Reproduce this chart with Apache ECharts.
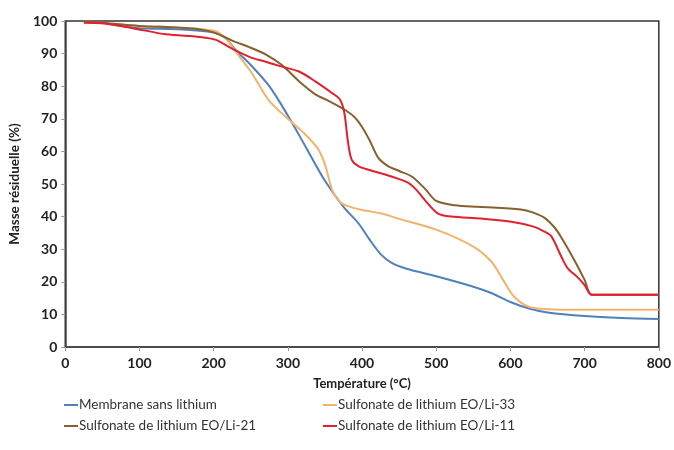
<!DOCTYPE html>
<html lang="fr">
<head>
    <meta charset="UTF-8">
    <title>Masse résiduelle</title>
    <script src="https://cdn.jsdelivr.net/npm/echarts@6/dist/echarts.min.js"></script>
</head>
<body style="margin:0">
<div id="main" style="width: 674px;height:450px;"></div>
<script type="text/javascript">
var tMembrane = [25, 50, 75, 100, 150, 200, 215, 230, 250, 275, 300, 325, 350, 375, 395, 410, 425, 440, 460, 500, 550, 575, 600, 625, 650, 700, 750, 800];
var mMembrane = [100, 99.5, 98.5, 97.8, 97.5, 96.5, 95, 91, 86.5, 80, 71, 61, 51, 43, 38, 33, 28.5, 25.8, 24, 21.7, 18.5, 16.5, 13.8, 11.8, 10.6, 9.5, 8.9, 8.6];

var tLi33 = [25, 50, 100, 150, 200, 215, 230, 250, 275, 300, 320, 340, 350, 360, 370, 380, 400, 425, 450, 500, 550, 575, 590, 605, 625, 650, 700, 800];
var mLi33 = [100, 99.3, 98.5, 98, 97, 95, 90.5, 84.5, 75.5, 70, 66, 61, 56, 48, 44.5, 43.3, 42, 41, 39.3, 36, 30.8, 26, 20.6, 15.4, 12.3, 11.6, 11.4, 11.4];

var tLi21 = [25, 50, 100, 150, 180, 200, 225, 250, 270, 292, 315, 337, 355, 375, 390, 400, 410, 422, 435, 450, 467, 485, 500, 525, 556, 614, 630, 646, 660, 668, 686, 700, 710, 800];
var mLi21 = [100, 99.5, 98.5, 98, 97.5, 96.5, 94, 91.8, 89.8, 86.5, 81.5, 77.5, 75.5, 73, 70.5, 67.5, 63.5, 58, 55.5, 54, 52.3, 48.5, 44.8, 43.5, 43, 42.2, 41.3, 39.6, 36.5, 33.8, 26.7, 20.6, 16, 16];

var tLi11 = [25, 50, 91, 136, 181, 203, 225, 248, 270, 292, 315, 337, 359, 370, 376, 381, 386, 395, 410, 430, 450, 462, 472, 485, 502, 520, 560, 601, 630, 645, 655, 668, 677, 690, 700, 710, 800];
var mLi11 = [99.5, 99.3, 97.8, 95.9, 95.1, 94.2, 91.5, 89, 87.5, 86, 84.5, 81.5, 78, 76, 72, 63, 57.5, 55.5, 54.3, 53, 51.5, 50.4, 48.5, 45, 41, 40, 39.4, 38.4, 37, 35.5, 34, 28, 24.2, 21.5, 19, 16, 16];

var noms = ['Membrane sans lithium', 'Sulfonate de lithium EO/Li-33', 'Sulfonate de lithium EO/Li-21', 'Sulfonate de lithium EO/Li-11'];
var couleurs = ['#4f81bd', '#f4b26c', '#86612e', '#e3202c'];

function paires(t, m) {
    var d = [];
    for (var i = 0; i < t.length; i++) d.push([t[i], m[i]]);
    return d;
}

var myChart = echarts.init(document.getElementById('main'));

var police = 'Lato, "Open Sans", sans-serif';

function serie(i, t, m) {
    return {
        name: noms[i],
        type: 'line',
        data: paires(t, m),
        smooth: 0.3,
        showSymbol: false,
        lineStyle: {width: 2, color: couleurs[i]},
        itemStyle: {color: couleurs[i]}
    };
}

var legendeCommune = {
    orient: 'vertical',
    icon: 'rect',
    itemWidth: 14,
    itemHeight: 2,
    itemGap: 7,
    textStyle: {fontFamily: police, fontSize: 13.5, color: '#333', padding: [0, 0, 0, -4]}
};

option = {
    animation: false,
    grid: {left: 65, right: 12, top: 21, bottom: 103, show: true, borderColor: '#333', borderWidth: 1.5},
    legend: [
        Object.assign({left: 59, top: 393, data: [noms[0], noms[2]]}, legendeCommune),
        Object.assign({left: 318, top: 393, data: [noms[1], noms[3]]}, legendeCommune)
    ],
    xAxis: {
        type: 'value', min: 0, max: 800, interval: 100,
        name: 'Température (°C)', nameLocation: 'middle', nameGap: 30,
        nameTextStyle: {fontFamily: police, fontSize: 13, fontWeight: 'bold', color: '#222'},
        axisLine: {lineStyle: {color: '#444', width: 1.5}},
        axisTick: {show: true, length: 4, lineStyle: {color: '#999'}},
        axisLabel: {fontFamily: police, fontSize: 14, fontWeight: 'bold', color: '#222', margin: 9},
        splitLine: {show: false}
    },
    yAxis: {
        type: 'value', min: 0, max: 100, interval: 10,
        name: 'Masse résiduelle (%)', nameLocation: 'middle', nameGap: 43,
        nameTextStyle: {fontFamily: police, fontSize: 13.5, fontWeight: 'bold', color: '#222'},
        axisLine: {show: true, lineStyle: {color: '#444', width: 1.5}},
        axisTick: {show: true, length: 4, lineStyle: {color: '#999'}},
        axisLabel: {fontFamily: police, fontSize: 14, fontWeight: 'bold', color: '#222', margin: 8},
        splitLine: {show: false}
    },
    series: [
        serie(0, tMembrane, mMembrane),
        serie(1, tLi33, mLi33),
        serie(2, tLi21, mLi21),
        serie(3, tLi11, mLi11)
    ]
};

myChart.setOption(option);
</script>
</body>
</html>
